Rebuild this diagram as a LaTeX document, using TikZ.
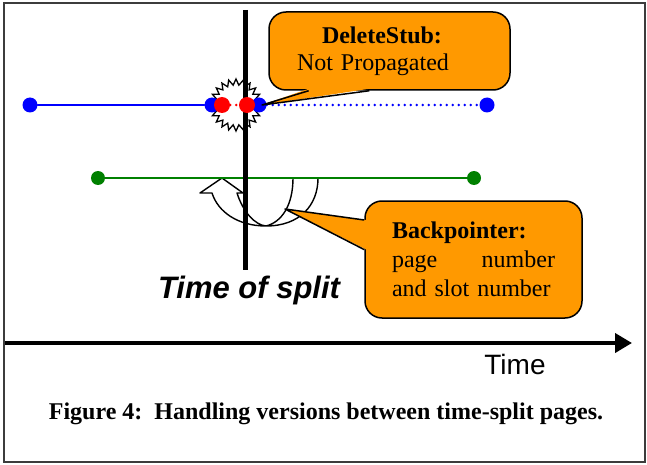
\documentclass[tikz,border=0pt]{standalone}
\usepackage{fontspec}
\setmainfont{Liberation Serif}
\setsansfont{Liberation Sans}
\usetikzlibrary{shapes.geometric,arrows.meta,calc}
\definecolor{splitBlue}{RGB}{0,0,255}
\definecolor{splitRed}{RGB}{255,0,0}
\definecolor{splitGreen}{RGB}{0,128,0}
\definecolor{splitOrange}{RGB}{255,153,0}
\definecolor{splitFrame}{RGB}{60,60,60}
\tikzset{
  versiondot/.style={circle, inner sep=0pt, minimum size=15pt},
  bluedot/.style={versiondot, fill=splitBlue},
  reddot/.style={versiondot, minimum size=16pt, fill=splitRed},
  greendot/.style={versiondot, minimum size=14pt, fill=splitGreen},
  versionline/.style={line width=2pt, line cap=round},
  calloutbox/.style={rectangle, draw=black, fill=splitOrange, line width=1.5pt,
    rounded corners=17pt, align=left, font=\fontsize{24}{27}\selectfont, inner ysep=0pt},
  calloutwedge/.style={fill=splitOrange},
  calloutedge/.style={draw=black, line width=1.5pt, line join=round},
  burstshape/.style={star, star points=22, star point ratio=1.3, minimum size=52pt,
    inner sep=0pt, draw=black, fill=white, line width=1.3pt},
  splitline/.style={line width=5pt},
  timeaxis/.style={line width=4pt, -{Triangle[length=17pt,width=19pt]}},
  uturn/.style={draw=black, fill=white, line width=1.4pt, line join=round},
}
\begin{document}
\begin{tikzpicture}[x=1pt,y=-1pt]
  \useasboundingbox (0,0) rectangle (647,465);
  \draw[splitFrame, line width=2pt] (4,3) rectangle (645,462);

  % curved back pointer
  \draw[uturn] (293,178) -- (318,178)
    .. controls (318,205) and (300,226) .. (266,226)
    .. controls (238,226) and (218,212) .. (212,193)
    -- (200,193) -- (222,178) -- (243,193) -- (237,193)
    .. controls (243,212) and (255,225) .. (266,226)
    .. controls (282,222) and (293,205) .. (293,178);

  % new page version
  \node[greendot] (g1) at (98,178) {};
  \node[greendot] (g2) at (474,178) {};
  \draw[versionline, splitGreen] (g1) -- (g2);

  % old page version and the split
  \node[burstshape] (burst) at (236,105) {};
  \coordinate (splittop) at (245,10);
  \coordinate (splitbot) at (245,270);
  \draw[splitline] (splittop) -- (splitbot);
  \node[bluedot] (b1) at (30,105) {};
  \node[bluedot] (b2) at (212,105) {};
  \node[bluedot] (b3) at (259,105) {};
  \node[bluedot] (b4) at (487,105) {};
  \draw[versionline, splitBlue] (b1) -- (b2);
  \draw[versionline, splitBlue, line width=2.6pt, dash pattern=on 0pt off 6pt] (b3) -- (b4);
  \node[reddot] (r1) at (222,105) {};
  \node[reddot] (r2) at (247,105) {};
  \draw[versionline, splitRed, line width=2.6pt, dash pattern=on 0pt off 6pt] (r1) -- (r2);

  % callouts
  \node[calloutbox, text width=185pt, inner xsep=28pt, minimum height=78pt] (stub) at (389.5,51)
    {\hspace*{25pt}\textbf{DeleteStub:}\\Not Propagated};
  \coordinate (stubtip) at (262,105);
  \fill[calloutwedge] (stubtip) -- ($(stub.south west)!1/6!(stub.south east)+(0,-2)$)
    -- ($(stub.south west)!5/12!(stub.south east)+(0,-2)$) -- cycle;
  \draw[calloutedge] ($(stub.south west)!1/6!(stub.south east)$) -- (stubtip)
    -- ($(stub.south west)!5/12!(stub.south east)$);

  \node[calloutbox, text width=163pt, inner xsep=27pt, minimum height=117pt,
    font=\fontsize{24}{29}\selectfont] (bp) at (473.5,259.5)
    {\textbf{Backpointer:}\\page\hfill number\\and slot number};
  \coordinate (bptip) at (285,209);
  \fill[calloutwedge] (bptip) -- ($(bp.north west)!1/6!(bp.south west)+(2,0)$)
    -- ($(bp.north west)!5/12!(bp.south west)+(2,0)$) -- cycle;
  \draw[calloutedge] ($(bp.north west)!1/6!(bp.south west)$) -- (bptip)
    -- ($(bp.north west)!5/12!(bp.south west)$);

  % labels and time axis
  \node[font=\sffamily\bfseries\itshape\fontsize{31}{31}\selectfont] (splitlabel) at (249,290) {Time of split};
  \coordinate (axisstart) at (5,343);
  \coordinate (axisend) at (632,343);
  \draw[timeaxis] (axisstart) -- (axisend);
  \node[font=\sffamily\fontsize{28}{28}\selectfont] (timelabel) at (515,364) {Time};
  \node[font=\bfseries\fontsize{24}{24}\selectfont] (caption) at (326,414)
    {Figure 4:\ \ Handling versions between time-split pages.};
\end{tikzpicture}
\end{document}
